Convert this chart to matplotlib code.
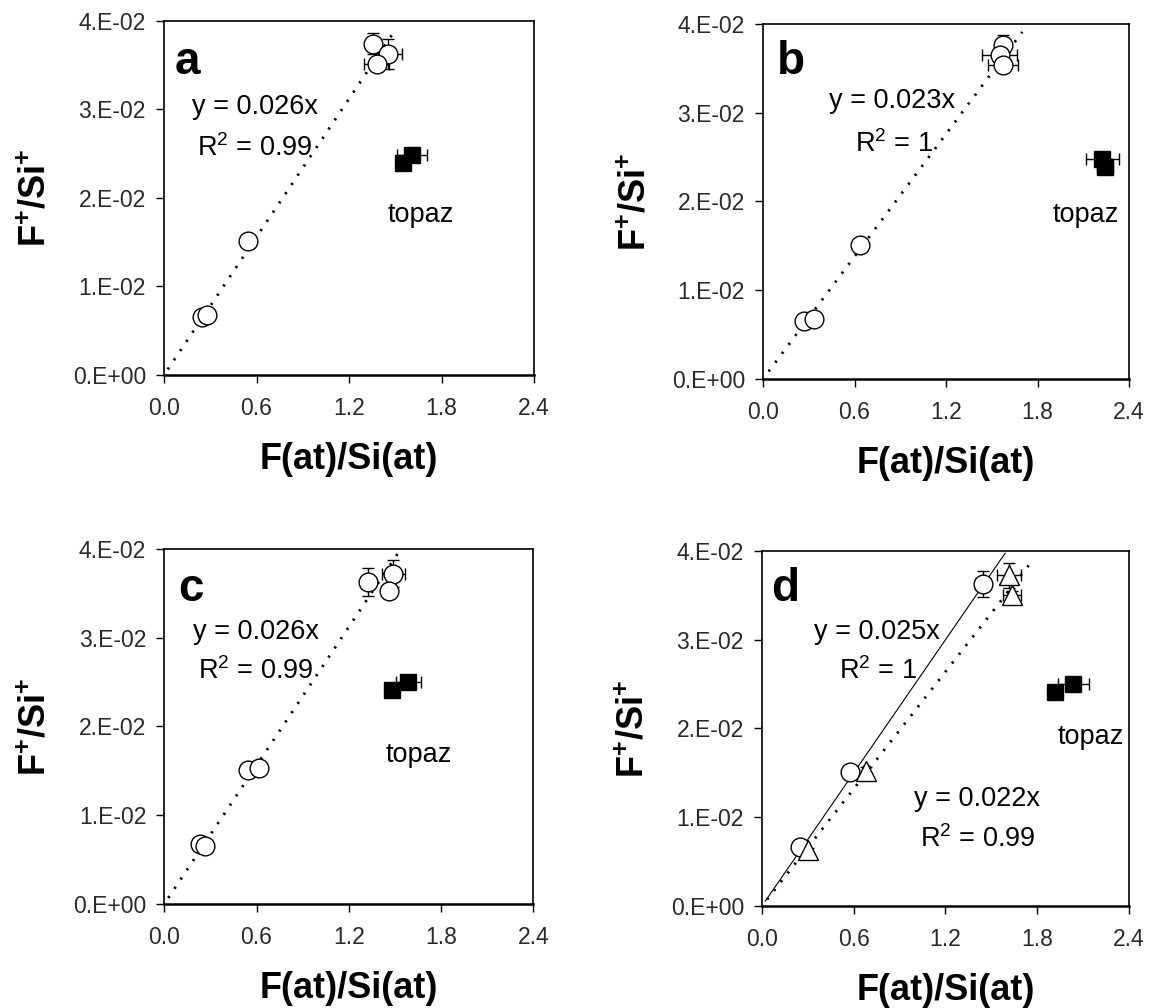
import matplotlib
matplotlib.use("Agg")
import numpy as np
import matplotlib.pyplot as plt

plt.rcParams["font.family"] = ["Liberation Sans", "DejaVu Sans"]
plt.rcParams["mathtext.fontset"] = "custom"
plt.rcParams["mathtext.rm"] = "Liberation Sans"
plt.rcParams["mathtext.it"] = "Liberation Sans:italic"
plt.rcParams["mathtext.bf"] = "Liberation Sans:bold"

# axis ticks
x_ticks = [0.0, 0.6, 1.2, 1.8, 2.4]
x_ticklabels = ["0.0", "0.6", "1.2", "1.8", "2.4"]
y_ticks = [0.0, 0.01, 0.02, 0.03, 0.04]
y_ticklabels = ["0.E+00", "1.E-02", "2.E-02", "3.E-02", "4.E-02"]

# panel a
a_x = [1.358, 1.455, 1.379, 0.543, 0.244, 0.277]
a_y = [0.03744, 0.03631, 0.03518, 0.01516, 0.00651, 0.00677]
a_xerr = [0.03, 0.086, 0.082, 0.02, 0.01, 0.01]
a_yerr = [0.0012, 0.0017, 0.0004, 0.0005, 0.0003, 0.0003]
a_topaz_x = [1.552, 1.607]
a_topaz_y = [0.0239, 0.02484]
a_topaz_xerr = [0.03, 0.097]
a_fit = [0.026]

# panel b
b_x = [1.575, 1.553, 1.575, 0.634, 0.269, 0.335]
b_y = [0.03763, 0.03651, 0.03538, 0.0151, 0.00657, 0.00672]
b_xerr = [0.04, 0.115, 0.10, 0.02, 0.01, 0.01]
b_yerr = [0.0011, 0.0006, 0.0005, 0.0004, 0.0003, 0.0003]
b_topaz_x = [2.225, 2.242]
b_topaz_y = [0.02475, 0.02392]
b_topaz_xerr = [0.11, 0.05]
b_fit = [0.023]

# panel c
c_x = [1.3225, 1.489, 1.463, 0.542, 0.618, 0.232, 0.264]
c_y = [0.03629, 0.03722, 0.03523, 0.01508, 0.01535, 0.00672, 0.00657]
c_xerr = [0.03, 0.076, 0.04, 0.02, 0.02, 0.01, 0.01]
c_yerr = [0.00154, 0.0015, 0.0005, 0.0004, 0.0004, 0.0003, 0.0003]
c_topaz_x = [1.479, 1.587]
c_topaz_y = [0.02409, 0.02503]
c_topaz_xerr = [0.03, 0.082]
c_fit = [0.026]

# panel d: circles and triangles, two fits
d_x = [0.246, 0.573, 1.442]
d_y = [0.00664, 0.01507, 0.03625]
d_xerr = [0.01, 0.02, 0.05]
d_yerr = [0.0003, 0.0004, 0.00144]
d_tri_x = [0.301, 0.679, 1.616, 1.633]
d_tri_y = [0.00626, 0.01526, 0.03726, 0.03501]
d_tri_xerr = [0.01, 0.02, 0.08, 0.06]
d_tri_yerr = [0.0003, 0.0004, 0.0014, 0.0005]
d_topaz_x = [1.916, 2.036]
d_topaz_y = [0.02407, 0.025]
d_topaz_xerr = [0.03, 0.10]
d_fit = [0.025, 0.022]

fig = plt.figure(figsize=(11.51, 10.08), dpi=100)

# [left, bottom, width, height] in figure fraction
boxes = {
    "a": [0.1425, 0.628, 0.3215, 0.3512],
    "b": [0.6629, 0.624, 0.318, 0.3522],
    "c": [0.1427, 0.1032, 0.3206, 0.3522],
    "d": [0.662, 0.1012, 0.3189, 0.3522],
}


def setup(ax):
    ax.set_xlim(0, 2.4)
    ax.set_ylim(0, 0.04)
    ax.set_xticks(x_ticks)
    ax.set_xticklabels(x_ticklabels)
    ax.set_yticks(y_ticks)
    ax.set_yticklabels(y_ticklabels)
    ax.tick_params(direction="out", length=6, width=1, labelsize=16.5,
                   labelcolor="#2a2a2a")
    ax.tick_params(axis="x", pad=10)
    ax.tick_params(axis="y", pad=7)
    for s in ax.spines.values():
        s.set_linewidth(1.2)
    ax.spines["bottom"].set_linewidth(1.8)
    ax.set_xlabel("F(at)/Si(at)", fontsize=26, fontweight="bold")
    ax.set_ylabel(r"F$^\mathbf{+}$/Si$^\mathbf{+}$", fontsize=26,
                  fontweight="bold")
    ax.xaxis.set_label_coords(0.5, -0.19)
    ax.yaxis.set_label_coords(-0.30, 0.5)


def circles(ax, x, y, xerr, yerr, marker="o", ms=13.5):
    ax.errorbar(x, y, xerr=xerr, yerr=yerr, fmt="none", ecolor="black",
                elinewidth=1, capsize=4, capthick=1, zorder=3)
    ax.plot(x, y, linestyle="none", marker=marker, ms=ms, mfc="white",
            mec="black", mew=1, zorder=4)


def topaz(ax, x, y, xerr):
    ax.errorbar(x, y, xerr=xerr, fmt="none", ecolor="black",
                elinewidth=1, capsize=4, capthick=1, zorder=3)
    ax.plot(x, y, linestyle="none", marker="s", ms=12, mfc="black",
            mec="black", zorder=4)


def fit_line(ax, slope, x0, x1, style="dotted"):
    xs = np.array([x0, x1])
    if style == "dotted":
        ax.plot(xs, slope * xs, color="black", lw=2,
                linestyle=(0, (0.8, 3.2)), zorder=2)
    else:
        ax.plot(xs, slope * xs, color="black", lw=0.8, zorder=2)


txt = dict(fontsize=19.5, va="baseline", ha="left")
let = dict(fontsize=33, fontweight="bold", va="baseline", ha="left")

# a
ax = fig.add_axes(boxes["a"])
setup(ax)
fit_line(ax, a_fit[0], 0.024, 1.50)
circles(ax, a_x, a_y, a_xerr, a_yerr)
topaz(ax, a_topaz_x, a_topaz_y, a_topaz_xerr)
ax.text(0.067, 0.0340, "a", **let)
ax.text(0.179, 0.0295, "y = 0.026x", **txt)
ax.text(0.212, 0.0247, r"R$^2$ = 0.99", **txt)
ax.text(1.451, 0.0173, "topaz", **txt)

# b
ax = fig.add_axes(boxes["b"])
setup(ax)
fit_line(ax, b_fit[0], 0.037, 1.70)
circles(ax, b_x, b_y, b_xerr, b_yerr)
topaz(ax, b_topaz_x, b_topaz_y, b_topaz_xerr)
ax.text(0.094, 0.0344, "b", **let)
ax.text(0.431, 0.0305, "y = 0.023x", **txt)
ax.text(0.602, 0.0256, r"R$^2$ = 1", **txt)
ax.text(1.897, 0.0177, "topaz", **txt)

# c
ax = fig.add_axes(boxes["c"])
setup(ax)
fit_line(ax, c_fit[0], 0.026, 1.54)
circles(ax, c_x, c_y, c_xerr, c_yerr)
topaz(ax, c_topaz_x, c_topaz_y, c_topaz_xerr)
ax.text(0.091, 0.0341, "c", **let)
ax.text(0.189, 0.0299, "y = 0.026x", **txt)
ax.text(0.221, 0.0254, r"R$^2$ = 0.99", **txt)
ax.text(1.442, 0.0160, "topaz", **txt)

# d
ax = fig.add_axes(boxes["d"])
setup(ax)
fit_line(ax, d_fit[0], 0.022, 1.59, style="solid")
fit_line(ax, d_fit[1], 0.033, 1.78)
circles(ax, d_x, d_y, d_xerr, d_yerr)
circles(ax, d_tri_x, d_tri_y, d_tri_xerr, d_tri_yerr, marker="^", ms=14)
topaz(ax, d_topaz_x, d_topaz_y, d_topaz_xerr)
ax.text(0.061, 0.0344, "d", **let)
ax.text(0.338, 0.0301, "y = 0.025x", **txt)
ax.text(0.501, 0.0256, r"R$^2$ = 1", **txt)
ax.text(1.932, 0.0183, "topaz", **txt)
ax.text(0.997, 0.0113, "y = 0.022x", **txt)
ax.text(1.034, 0.0066, r"R$^2$ = 0.99", **txt)

fig.savefig("out.png", dpi=100)
